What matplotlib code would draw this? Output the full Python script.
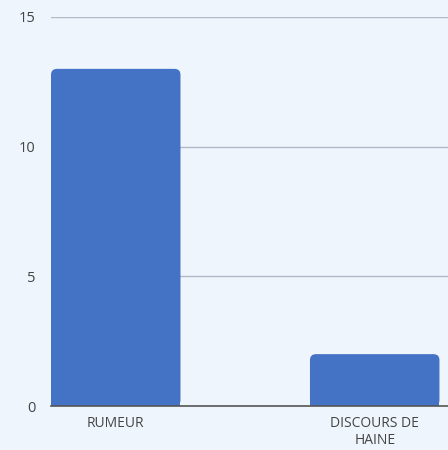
import matplotlib.pyplot as plt
from matplotlib.patches import FancyBboxPatch, Rectangle

categories = ['RUMEUR', 'DISCOURS DE\nHAINE']
values = [13, 2]
yticks = [0, 5, 10, 15]

bg = '#EEF5FD'
bar_color = '#4472C4'

plt.rcParams['font.family'] = ['Open Sans', 'DejaVu Sans']

fig = plt.figure(figsize=(4.48, 4.5), dpi=100, facecolor=bg)
ax = fig.add_axes([51 / 448, 44 / 450, 397 / 448, 389 / 450])
ax.set_facecolor(bg)

width = 0.5
ax.set_xlim(-0.25, 1.283)
ax.set_ylim(0, 15)

# rounded top corners: radius about 6 px
rx = 6 / 259
ry = 6 / (389 / 15)
for i, v in enumerate(values):
    left = i - width / 2
    box = FancyBboxPatch((left + rx, ry), width - 2 * rx, v - 2 * ry,
                         boxstyle=f'round,pad={rx}', mutation_aspect=ry / rx,
                         fc=bar_color, ec='none', zorder=3)
    ax.add_patch(box)
    ax.add_patch(Rectangle((left, 0), width, v / 2, fc=bar_color, ec='none', zorder=3))

for t in yticks[1:]:
    ax.axhline(t, color='#B3BAC5', lw=1, zorder=1)
ax.axhline(0, color='#555555', lw=1.2, zorder=4, clip_on=False)

for s in ax.spines.values():
    s.set_visible(False)

ax.set_yticks(yticks)
ax.set_yticklabels([str(t) for t in yticks], fontsize=10.5, color='#444444')
ax.set_xticks(range(len(categories)))
ax.set_xticklabels(categories, fontsize=10, color='#444444', linespacing=1.25, va='top')
ax.tick_params(axis='both', length=0)
ax.tick_params(axis='y', pad=11)
ax.tick_params(axis='x', pad=7)

fig.savefig('out.png', dpi=100, facecolor=bg)
